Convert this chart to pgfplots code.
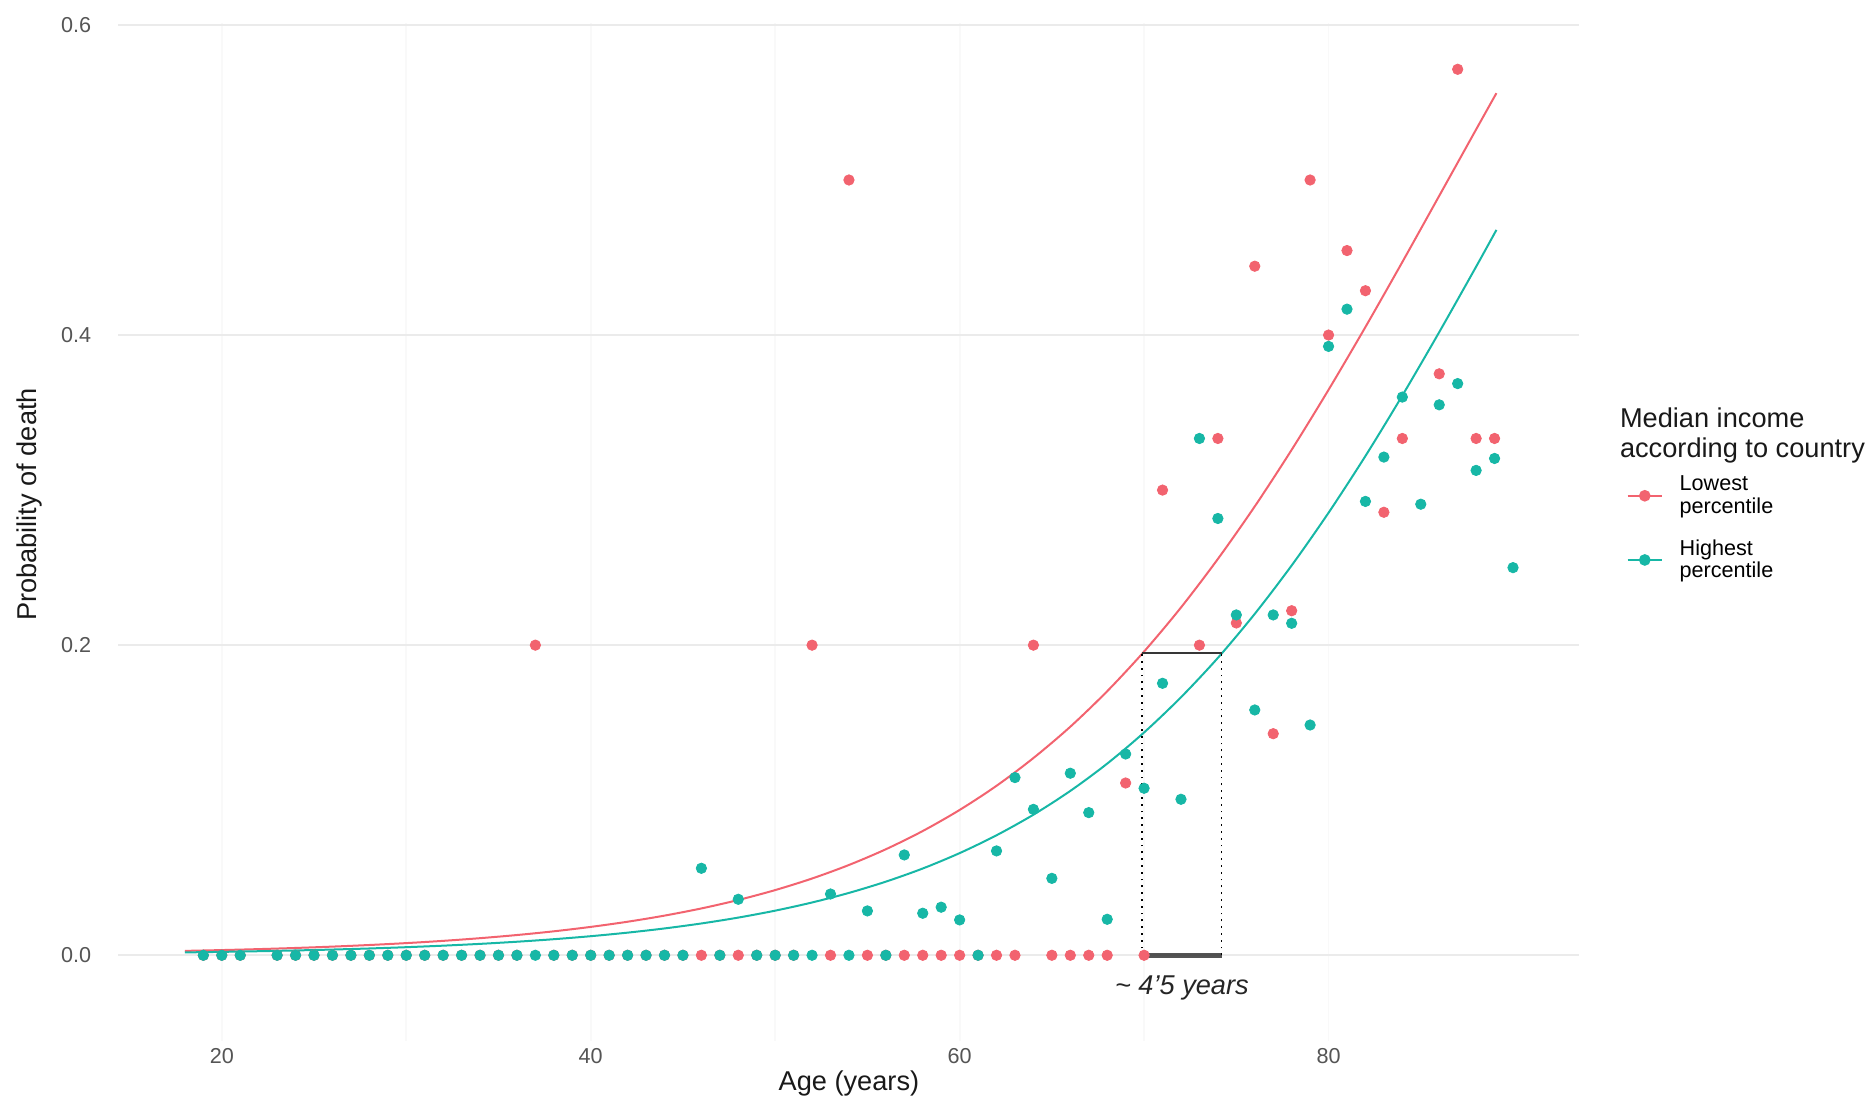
\documentclass[border=0pt]{standalone}
\usepackage{fontspec}
\setmainfont{Liberation Sans}
\usepackage{pgfplots}
\pgfplotsset{compat=1.18}
\usepackage{pgfplotstable}

\definecolor{redc}{HTML}{F2636F}
\definecolor{tealc}{HTML}{17B7A6}
\definecolor{gridc}{HTML}{EBEBEB}
\definecolor{tickc}{HTML}{555555}
\definecolor{bracketc}{HTML}{363636}

% Observed probability of death by age, lowest-income countries
\pgfplotstableread{
age p
19 0
20 0
21 0
23 0
24 0
25 0
26 0
27 0
28 0
29 0
30 0
31 0
32 0
33 0
34 0
35 0
36 0
37 0.2
38 0
39 0
40 0
41 0
42 0
43 0
44 0
45 0
46 0
47 0
48 0
49 0
50 0
51 0
52 0.2
53 0
54 0.5
55 0
56 0
57 0
58 0
59 0
60 0
61 0
62 0
63 0
64 0.2
65 0
66 0
67 0
68 0
69 0.1111
70 0
71 0.3
73 0.2
74 0.3333
75 0.2143
76 0.4444
77 0.1429
78 0.2222
79 0.5
80 0.4
81 0.4545
82 0.4286
83 0.2857
84 0.3333
86 0.375
87 0.5714
88 0.3333
89 0.3333
}\lowdata

% Observed probability of death by age, highest-income countries
\pgfplotstableread{
age p
19 0
20 0
21 0
23 0
24 0
25 0
26 0
27 0
28 0
29 0
30 0
31 0
32 0
33 0
34 0
35 0
36 0
37 0
38 0
39 0
40 0
41 0
42 0
43 0
44 0
45 0
46 0.0561
47 0
48 0.0361
49 0
50 0
51 0
52 0
53 0.0395
54 0
55 0.0286
56 0
57 0.0647
58 0.0271
59 0.031
60 0.0228
61 0
62 0.0673
63 0.1146
64 0.0941
65 0.0496
66 0.1174
67 0.092
68 0.0232
69 0.1298
70 0.1077
71 0.1754
72 0.1006
73 0.3333
74 0.2817
75 0.2195
76 0.1582
77 0.2195
78 0.2141
79 0.1485
80 0.3927
81 0.4167
82 0.2927
83 0.3213
84 0.36
85 0.2909
86 0.355
87 0.3687
88 0.3127
89 0.3204
90 0.25
}\highdata

% Fitted logistic curves
\pgfplotstableread{
age p
18 0.00282
20 0.00335
22 0.00397
24 0.00471
26 0.00558
28 0.00662
30 0.00784
32 0.00929
34 0.01102
36 0.01305
38 0.01545
40 0.01829
42 0.02163
44 0.02557
46 0.03020
48 0.03565
50 0.04203
52 0.04950
54 0.05823
56 0.06837
58 0.08013
60 0.09372
62 0.1093
64 0.1272
66 0.1474
68 0.1703
70 0.1959
72 0.2243
74 0.2556
76 0.2895
78 0.3260
80 0.3647
82 0.4052
84 0.4471
86 0.4898
88 0.5326
89.1 0.5560
}\lowfit

\pgfplotstableread{
age p
18 0.00184
20 0.00219
22 0.00261
24 0.00310
26 0.00369
28 0.00438
30 0.00521
32 0.00619
34 0.00735
36 0.00873
38 0.01036
40 0.01230
42 0.01459
44 0.01730
46 0.02051
48 0.02430
50 0.02877
52 0.03404
54 0.04022
56 0.04748
58 0.05596
60 0.06588
62 0.07739
64 0.09066
66 0.1060
68 0.1236
70 0.1437
72 0.1664
74 0.1918
76 0.2202
78 0.2514
80 0.2854
82 0.3220
84 0.3610
86 0.4019
88 0.4441
89.1 0.4678
}\highfit

\begin{document}
\begin{tikzpicture}
\begin{axis}[
  scale only axis,
  width=730.5pt, height=508.6pt,
  xmin=14.4, xmax=93.6,
  ymin=-0.055, ymax=0.601,
  clip=false,
  axis line style={draw=none},
  tick style={draw=none},
  xtick={20,40,60,80},
  minor xtick={30,50,70},
  ytick={0,0.2,0.4,0.6},
  ymajorgrids, xmajorgrids, xminorgrids,
  major grid style={gridc, line width=0.9pt},
  x grid style={gray!5, line width=0.9pt},
  minor grid style={gray!4, line width=0.6pt},
  /pgf/number format/assume math mode=true,
  yticklabel style={/pgf/number format/.cd, fixed, fixed zerofill, precision=1, /tikz/.cd,
    font=\fontsize{10.8}{12}\selectfont, text=tickc, inner sep=0pt, anchor=east, xshift=-13.5pt},
  xticklabel style={font=\fontsize{10.8}{12}\selectfont, text=tickc, inner sep=0pt, anchor=north, yshift=-3.5pt},
  legend style={draw=none, fill=none, at={(rel axis cs:1,1)}, anchor=north west,
    xshift=23.65pt, yshift=-225.8pt, inner sep=0pt, outer sep=0pt,
    row sep=11.3pt, column sep=8.4pt,
    font=\fontsize{10.8}{11.35}\selectfont,
    nodes={inner sep=0pt}},
  legend cell align=left,
]
% observed points
\addplot[only marks, mark=*, mark size=2.6pt, color=redc, forget plot] table[x=age, y=p] {\lowdata};
\addplot[only marks, mark=*, mark size=2.6pt, color=tealc, forget plot] table[x=age, y=p] {\highdata};
% fitted curves
\addplot[smooth, no marks, color=redc, line width=1pt, forget plot] table[x=age, y=p] {\lowfit};
\addplot[smooth, no marks, color=tealc, line width=1pt, forget plot] table[x=age, y=p] {\highfit};
% gap between the two curves at p = 0.195
\addplot[no marks, color=bracketc, line width=1.3pt, forget plot] coordinates {(69.9,0.195) (74.2,0.195)};
\addplot[no marks, color=bracketc, opacity=0.85, line width=2.6pt, forget plot] coordinates {(69.9,0) (74.2,0)};
\addplot[no marks, color=black, line width=0.9pt, dash pattern=on 0.9pt off 2.5pt, forget plot] coordinates {(69.9,0) (69.9,0.195)};
\addplot[no marks, color=black, line width=0.9pt, dash pattern=on 0.9pt off 2.5pt, forget plot] coordinates {(74.2,0) (74.2,0.195)};
\node[font=\fontsize{13.6}{15}\selectfont\itshape, text=black!85] at (axis cs:72.05,-0.0208) {\textasciitilde{} 4'5 years};
% legend keys
\addlegendimage{color=redc, line width=1pt, mark=*, mark size=2.4pt}
\addlegendentry{\begin{tabular}[b]{@{}l@{}}Lowest\\percentile\end{tabular}}
\addlegendimage{color=tealc, line width=1pt, mark=*, mark size=2.4pt}
\addlegendentry{\begin{tabular}[b]{@{}l@{}}Highest\\percentile\end{tabular}}
% titles
\node[rotate=90, font=\fontsize{13.6}{15}\selectfont, text=black!90] at ([xshift=-44.35pt]rel axis cs:0,0.527) {Probability of death};
\node[font=\fontsize{13.6}{15}\selectfont, text=black!90] at ([yshift=-21.7pt]rel axis cs:0.5,0) {Age (years)};
\node[anchor=north west, align=left, inner sep=0pt, font=\fontsize{13.6}{14.8}\selectfont, text=black!90] at ([xshift=20.1pt, yshift=-192pt]rel axis cs:1,1) {Median income\\according to country};
\end{axis}
\pgfresetboundingbox
\path[use as bounding box] (-59.25pt,-28.7pt) rectangle (875.8pt,520.3pt);
\end{tikzpicture}
\end{document}
